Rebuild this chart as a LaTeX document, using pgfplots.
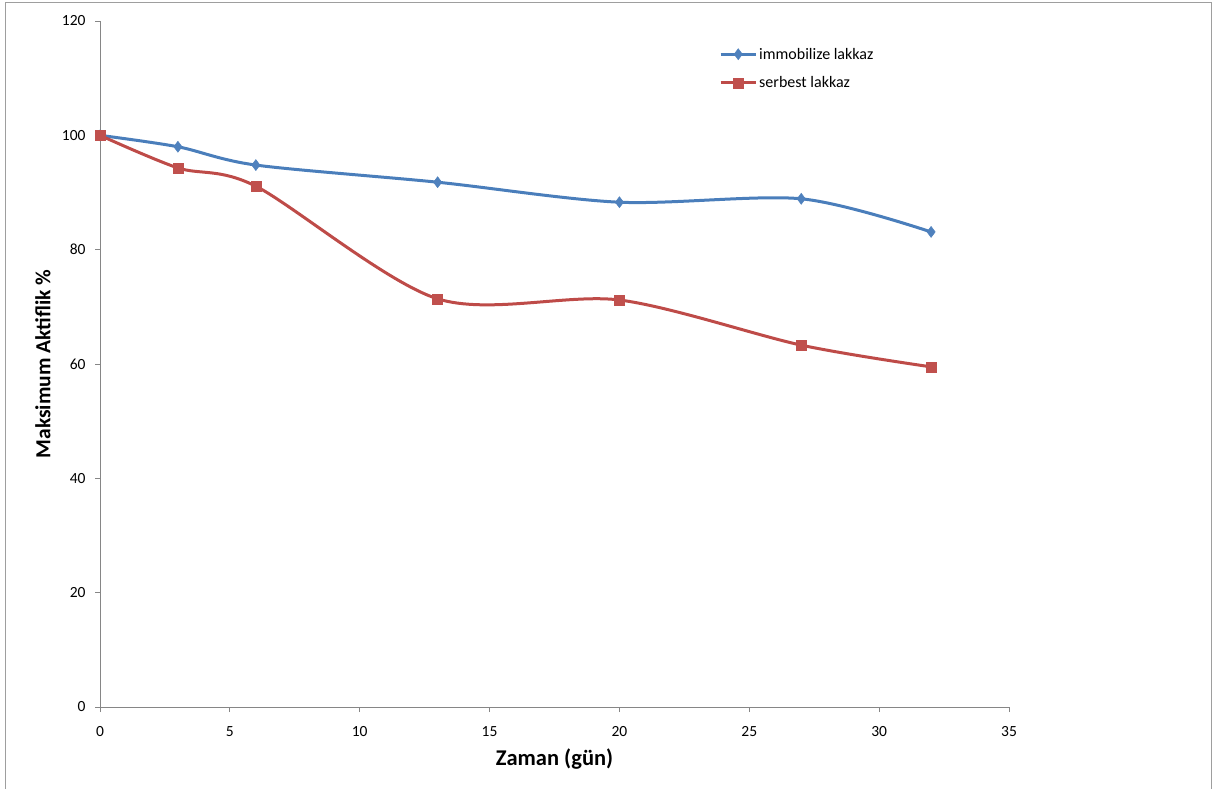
\documentclass[border=0pt]{standalone}
\usepackage{fontspec}
\setmainfont{Carlito}
\usepackage{pgfplots}
\pgfplotsset{compat=1.18}
\definecolor{lineblue}{HTML}{4A7EBB}
\definecolor{markblue}{HTML}{4F81BD}
\definecolor{linered}{HTML}{BE4B48}
\definecolor{markred}{HTML}{C0504D}
\definecolor{axgray}{HTML}{868686}
\begin{document}
\begin{tikzpicture}
\useasboundingbox (0pt,0pt) rectangle (1215pt,-789pt);
\draw[axgray!80, line width=1.2pt] (5.5pt,-2.5pt) rectangle (1211.5pt,-800pt);
\begin{axis}[at={(100pt,-707pt)}, anchor=south west, scale only axis,
  width=909pt, height=686pt,
  xmin=0, xmax=35, ymin=0, ymax=120,
  xtick={0,5,...,35}, ytick={0,20,...,120},
  axis lines*=left,
  axis line style={axgray, line width=1pt},
  tick align=outside, major tick length=5pt,
  tick style={axgray, line width=1pt},
  /pgf/number format/assume math mode=true,
  ticklabel style={font=\fontsize{15.5}{17}\selectfont},
  xticklabel style={yshift=-11pt},
  yticklabel style={xshift=-6pt},
  enlargelimits=false, clip=false,
  xlabel={\textbf{Zaman (gün)}},
  ylabel={\textbf{Maksimum Aktiflik \%}},
  xlabel style={font=\fontsize{22.5}{26}\selectfont, at={(axis description cs:0.5,-0.0758)}, anchor=center},
  ylabel style={font=\fontsize{21.5}{26}\selectfont, at={(axis description cs:-0.0627,0.5)}, anchor=center},
  legend style={at={(axis description cs:0.681,0.964)}, anchor=north west, draw=none, fill=none,
    font=\fontsize{16}{18}\selectfont, row sep=12pt, inner sep=0pt},
  legend cell align=left,
  legend image code/.code={\draw[mark repeat=2,mark phase=2,#1] plot coordinates {(0pt,0pt) (17.5pt,0pt) (35pt,0pt)};},
]
\addplot[lineblue, line width=3pt, smooth, tension=0.5, mark=diamond*, mark size=5.5pt,
  mark options={fill=markblue, draw=markblue, line width=0.5pt, solid}]
  coordinates {(0,100) (3,98) (6,94.8) (13,91.8) (20,88.3) (27,88.9) (32,83.1)};
\addlegendentry{immobilize lakkaz}
\addplot[linered, line width=3pt, smooth, tension=0.5, mark=square*, mark size=5pt,
  mark options={fill=markred, draw=markred, line width=0.5pt, solid}]
  coordinates {(0,100) (3,94.3) (6,91.1) (13,71.4) (20,71.2) (27,63.3) (32,59.5)};
\addlegendentry{serbest lakkaz}
\end{axis}
\end{tikzpicture}
\end{document}
